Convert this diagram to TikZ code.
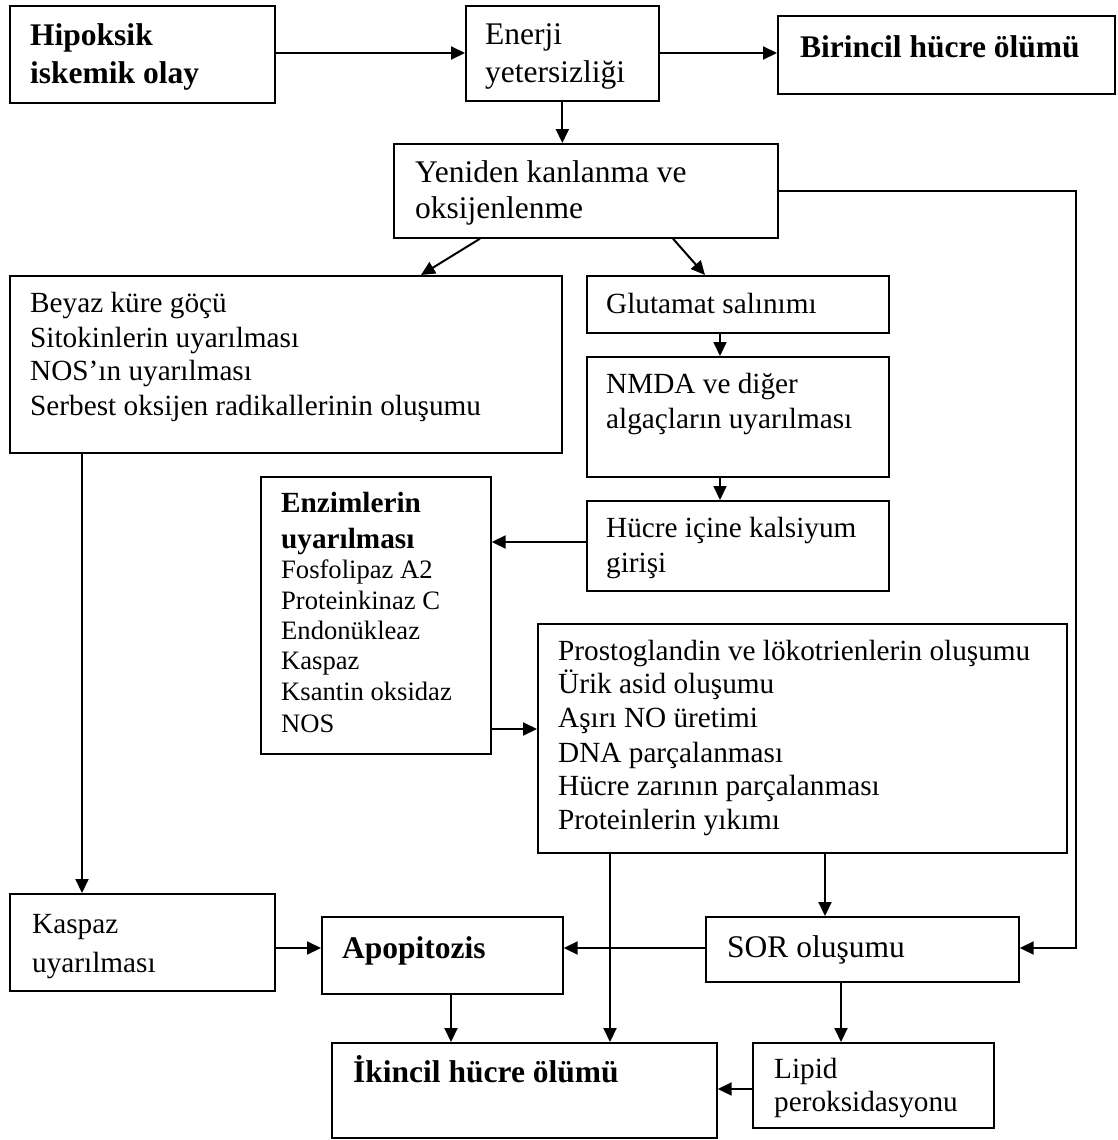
\documentclass[tikz,border=0pt]{standalone}
\usepackage{fontspec}
\setmainfont{Liberation Serif}
\usetikzlibrary{arrows.meta}
\tikzset{
  box/.style={draw, line width=1.7pt, inner sep=0pt, anchor=north west},
  txt/.style={anchor=base west, inner sep=0pt},
  big/.style={font=\fontsize{31.5}{37}\selectfont},
  bigb/.style={font=\fontsize{31.5}{37}\selectfont\bfseries},
  mid/.style={font=\fontsize{29.25}{34}\selectfont},
  midb/.style={font=\fontsize{29.25}{34}\selectfont\bfseries},
  sml/.style={font=\fontsize{26.6}{30}\selectfont},
  conn/.style={line width=2pt},
  arr/.style={conn, -{Triangle[length=14pt,width=13pt]}},
}
\begin{document}
\begin{tikzpicture}[x=1pt,y=-1pt]
\useasboundingbox (0,0) rectangle (1118,1140);
\fill[white] (0,0) rectangle (1118,1140);

% boxes
\node[box, minimum width=265pt, minimum height=97pt] (hip) at (9,5) {};
\node[box, minimum width=193pt, minimum height=95pt] (en) at (465,5) {};
\node[box, minimum width=337pt, minimum height=78pt] (bir) at (777,15) {};
\node[box, minimum width=384pt, minimum height=94pt] (yen) at (393,143) {};
\node[box, minimum width=552pt, minimum height=177pt] (bey) at (9,275) {};
\node[box, minimum width=302pt, minimum height=57pt] (glu) at (586,275) {};
\node[box, minimum width=302pt, minimum height=120pt] (nmda) at (586,356) {};
\node[box, minimum width=302pt, minimum height=90pt] (hic) at (586,500) {};
\node[box, minimum width=230pt, minimum height=277pt] (enz) at (260,476) {};
\node[box, minimum width=529pt, minimum height=229pt] (pro) at (537,623) {};
\node[box, minimum width=265pt, minimum height=97pt] (kas) at (9,893) {};
\node[box, minimum width=241pt, minimum height=77pt] (apo) at (321,916) {};
\node[box, minimum width=313pt, minimum height=65pt] (sor) at (705,916) {};
\node[box, minimum width=385pt, minimum height=95pt] (ik) at (331,1042) {};
\node[box, minimum width=241pt, minimum height=85pt] (lip) at (752,1042) {};

% texts
\node[txt,bigb] (t1) at (30,46) {Hipoksik};
\node[txt,bigb] (t2) at (30,83) {iskemik olay};
\node[txt,big] (t3) at (485,45) {Enerji};
\node[txt,big] (t4) at (485,82) {yetersizliği};
\node[txt,bigb] (t5) at (800,57) {Birincil hücre ölümü};
\node[txt,big] (t6) at (415,182) {Yeniden kanlanma ve};
\node[txt,big] (t7) at (415,218) {oksijenlenme};
\node[txt,mid] (t8) at (30,312) {Beyaz küre göçü};
\node[txt,mid] (t9) at (30,347) {Sitokinlerin uyarılması};
\node[txt,mid] (t10) at (30,380) {NOS’ın uyarılması};
\node[txt,mid] (t11) at (30,415) {Serbest oksijen radikallerinin oluşumu};
\node[txt,mid] (t12) at (606,313) {Glutamat salınımı};
\node[txt,mid] (t13) at (606,393) {NMDA ve diğer};
\node[txt,mid] (t14) at (606,428) {algaçların uyarılması};
\node[txt,mid] (t15) at (606,537) {Hücre içine kalsiyum};
\node[txt,mid] (t16) at (606,572) {girişi};
\node[txt,midb] (t17) at (281,512) {Enzimlerin};
\node[txt,midb] (t18) at (281,548) {uyarılması};
\node[txt,sml] (t19) at (281,578) {Fosfolipaz A2};
\node[txt,sml] (t20) at (281,609) {Proteinkinaz C};
\node[txt,sml] (t21) at (281,639) {Endonükleaz};
\node[txt,sml] (t22) at (281,669) {Kaspaz};
\node[txt,sml] (t23) at (281,700) {Ksantin oksidaz};
\node[txt,sml] (t24) at (281,732) {NOS};
\node[txt,mid] (t25) at (558,660) {Prostoglandin ve lökotrienlerin oluşumu};
\node[txt,mid] (t26) at (558,693) {Ürik asid oluşumu};
\node[txt,mid] (t27) at (558,727) {Aşırı NO üretimi};
\node[txt,mid] (t28) at (558,762) {DNA parçalanması};
\node[txt,mid] (t29) at (558,795) {Hücre zarının parçalanması};
\node[txt,mid] (t30) at (558,829) {Proteinlerin yıkımı};
\node[txt,mid] (t31) at (32,933) {Kaspaz};
\node[txt,mid] (t32) at (32,972) {uyarılması};
\node[txt,bigb] (t33) at (342,958) {Apopitozis};
\node[txt,big] (t34) at (727,957) {SOR oluşumu};
\node[txt,bigb] (t35) at (353,1082) {İkincil hücre ölümü};
\node[txt,mid] (t36) at (774,1078) {Lipid};
\node[txt,mid] (t37) at (774,1111) {peroksidasyonu};

% helper coordinates
\coordinate (d1a) at (480,0);
\coordinate (d1b) at (421,0);
\coordinate (d2a) at (673,0);
\coordinate (d2b) at (705,0);
\coordinate (gx) at (720,0);
\coordinate (kx) at (82,0);
\coordinate (px1) at (825,0);
\coordinate (px2) at (610,0);
\coordinate (ax) at (451,0);
\coordinate (lx) at (841,0);
\coordinate (c1) at (1076,191);
\coordinate (c2) at (1076,948);
\coordinate (y53) at (0,53);
\coordinate (y542) at (0,542);
\coordinate (y729) at (0,729);
\coordinate (y948) at (0,948);
\coordinate (y1089) at (0,1089);

% connectors
\draw[arr] (hip.east |- y53) -- (en.west |- y53);
\draw[arr] (en.east |- y53) -- (bir.west |- y53);
\draw[arr] (en.south) -- (en.south |- yen.north);
\draw[arr] (yen.south -| d1a) -- (bey.north -| d1b);
\draw[arr] (yen.south -| d2a) -- (glu.north -| d2b);
\draw[arr] (yen.east |- c1) -- (c1) -- (c2) -- (sor.east |- c2);
\draw[arr] (glu.south -| gx) -- (nmda.north -| gx);
\draw[arr] (nmda.south -| gx) -- (hic.north -| gx);
\draw[arr] (hic.west |- y542) -- (enz.east |- y542);
\draw[arr] (enz.east |- y729) -- (pro.west |- y729);
\draw[arr] (bey.south -| kx) -- (kas.north -| kx);
\draw[arr] (kas.east |- y948) -- (apo.west |- y948);
\draw[arr] (sor.west |- y948) -- (apo.east |- y948);
\draw[arr] (pro.south -| px1) -- (sor.north -| px1);
\draw[arr] (pro.south -| px2) -- (ik.north -| px2);
\draw[arr] (apo.south -| ax) -- (ik.north -| ax);
\draw[arr] (sor.south -| lx) -- (lip.north -| lx);
\draw[arr] (lip.west |- y1089) -- (ik.east |- y1089);
\end{tikzpicture}
\end{document}
